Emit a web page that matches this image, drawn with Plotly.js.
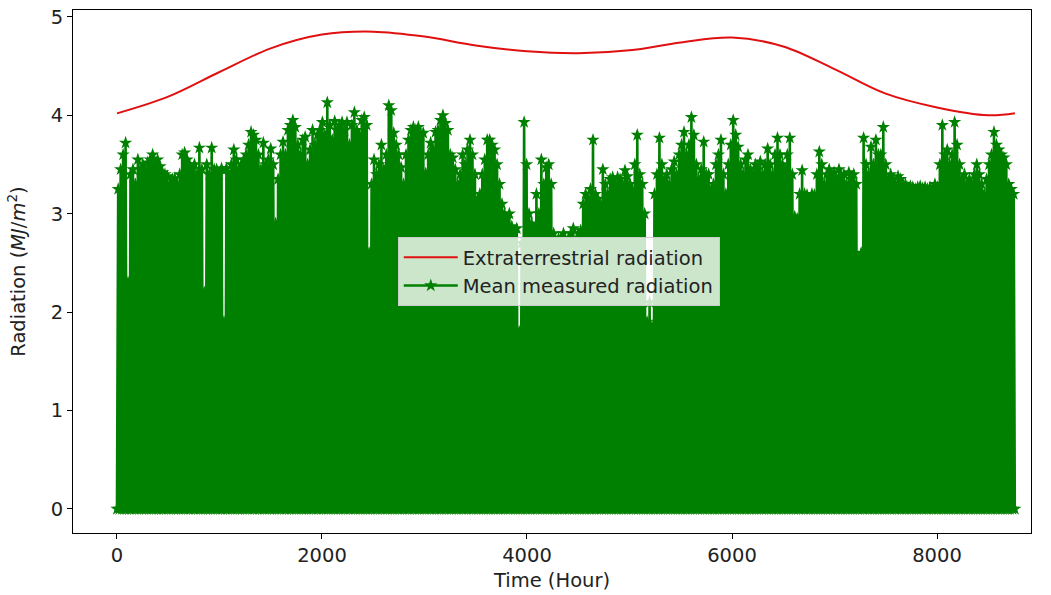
<!DOCTYPE html>
<html>
<head>
<meta charset="utf-8">
<script src="https://cdn.plot.ly/plotly-3.0.1.min.js"></script>
<style>
  html, body { margin: 0; padding: 0; background: #ffffff; }
  #chart { width: 1051px; height: 595px; }
</style>
</head>
<body>
<div id="chart"></div>
<script>
// ---- Data ----
// Extraterrestrial radiation (MJ/m^2), sampled along the hour axis
const extraHours  = [0, 500, 1000, 1500, 2000, 2500, 3000, 3500, 4000, 4500, 5000, 5500, 6000, 6500, 7000, 7500, 8000, 8500, 8760];
const extraValues = [4.02, 4.19, 4.44, 4.68, 4.82, 4.85, 4.80, 4.71, 4.65, 4.63, 4.66, 4.74, 4.79, 4.70, 4.47, 4.22, 4.08, 4.00, 4.02];

// Mean measured radiation: daily (noon) peak values for 365 days (MJ/m^2); nights are 0
const dailyPeak = [
  3.25, 3.45, 3.6, 3.72, 2.3, 3.4, 3.45, 3.3, 3.55, 3.45,
  3.5, 3.45, 3.52, 3.55, 3.6, 3.5, 3.55, 3.48, 3.42, 3.4,
  3.38, 3.3, 3.35, 3.36, 3.3, 3.4, 3.6, 3.62, 3.55, 3.5,
  3.45, 3.5, 3.4, 3.67, 3.45, 2.2, 3.5, 3.4, 3.67, 3.45,
  3.45, 3.4, 3.46, 1.9, 3.46, 3.4, 3.5, 3.65, 3.55, 3.45,
  3.5, 3.55, 3.6, 3.7, 3.83, 3.8, 3.75, 3.6, 3.45, 3.72,
  3.5, 3.55, 3.66, 3.5, 2.9, 3.35, 3.6, 3.73, 3.6, 3.85,
  3.9, 3.95, 3.88, 3.7, 3.6, 3.75, 3.78, 3.5, 3.65, 3.85,
  3.7, 3.8, 3.85, 3.93, 3.8, 4.13, 3.9, 3.75, 3.94, 3.85,
  3.9, 3.93, 3.85, 3.93, 3.7, 3.9, 4.03, 3.85, 3.8, 3.95,
  3.98, 3.9, 2.6, 3.3, 3.55, 3.4, 3.5, 3.7, 3.45, 3.6,
  4.1, 4.05, 3.82, 3.7, 3.6, 3.47, 3.3, 3.6, 3.75, 3.85,
  3.88, 3.85, 3.88, 3.8, 3.82, 3.41, 3.6, 3.72, 3.65, 3.83,
  3.85, 3.95, 4.0, 3.92, 3.85, 3.6, 3.57, 3.45, 3.3, 3.4,
  3.6, 3.5, 3.65, 3.75, 3.6, 3.4, 3.14, 3.2, 3.4, 3.55,
  3.75, 3.75, 3.7, 3.65, 3.5, 3.3, 3.1, 3.0, 2.95, 3.0,
  2.87, 2.8, 2.85, 1.8, 2.7, 3.93, 3.5, 3.0, 2.9, 2.85,
  3.2, 3.0, 3.55, 3.3, 3.47, 3.5, 3.3, 2.8, 2.7, 2.75,
  2.75, 2.8, 2.7, 2.75, 2.8, 2.85, 2.7, 2.8, 2.83, 3.1,
  3.2, 3.15, 3.25, 3.75, 3.2, 3.15, 3.1, 3.45, 3.3, 3.2,
  3.35, 3.37, 3.3, 3.37, 3.35, 3.3, 3.44, 3.38, 3.3, 3.24,
  3.5, 3.8, 3.4, 3.3, 3.0, 1.9, 2.1, 1.85, 3.2, 3.4,
  3.77, 3.5, 3.35, 3.4, 3.3, 3.45, 3.53, 3.4, 3.6, 3.7,
  3.83, 3.6, 3.7, 3.98, 3.8, 3.5, 3.35, 3.45, 3.73, 3.4,
  3.4, 3.24, 3.3, 3.5, 3.6, 3.75, 3.4, 3.2, 3.5, 3.7,
  3.95, 3.8, 3.68, 3.5, 3.4, 3.55, 3.6, 3.45, 3.4, 3.5,
  3.45, 3.53, 3.4, 3.5, 3.66, 3.5, 3.4, 3.6, 3.77, 3.6,
  3.5, 3.45, 3.6, 3.77, 3.4, 2.97, 2.95, 3.2, 3.44, 3.2,
  3.19, 3.15, 3.2, 3.19, 3.4, 3.63, 3.5, 3.3, 3.4, 3.45,
  3.4, 3.42, 3.35, 3.45, 3.38, 3.4, 3.3, 3.42, 3.35, 3.4,
  3.3, 2.56, 2.6, 3.77, 3.5, 3.4, 3.68, 3.5, 3.75, 3.6,
  3.6, 3.88, 3.5, 3.35, 3.4, 3.35, 3.3, 3.38, 3.35, 3.3,
  3.3, 3.27, 3.28, 3.27, 3.25, 3.27, 3.28, 3.26, 3.27, 3.25,
  3.27, 3.25, 3.3, 3.27, 3.5, 3.9, 3.6, 3.65, 3.5, 3.6,
  3.93, 3.7, 3.5, 3.35, 3.4, 3.3, 3.35, 3.3, 3.4, 3.5,
  3.4, 3.3, 3.2, 3.35, 3.5, 3.6, 3.83, 3.7, 3.65, 3.6,
  3.57, 3.5, 3.3, 3.25, 3.2
];
const nightValue = 0;
const lastHour = 8759;

const xTicks = [0, 2000, 4000, 6000, 8000];
const yTicks = [0, 1, 2, 3, 4, 5];

// ---- Build the hourly series table (night value at midnight, peak at noon) ----
const measHours = [];
const measValues = [];
for (let d = 0; d < dailyPeak.length; d++) {
  measHours.push(d * 24);      measValues.push(nightValue);
  measHours.push(d * 24 + 12); measValues.push(dailyPeak[d]);
}
measHours.push(lastHour); measValues.push(nightValue);

const font = { family: 'DejaVu Sans, sans-serif', size: 19.5, color: '#222222' };

const traces = [
  {
    x: extraHours, y: extraValues,
    type: 'scatter', mode: 'lines',
    name: 'Extraterrestrial radiation',
    line: { color: '#e01010', width: 2, shape: 'spline', smoothing: 1.0 }
  },
  {
    x: measHours, y: measValues,
    type: 'scatter', mode: 'lines+markers',
    name: 'Mean measured radiation',
    line: { color: '#008000', width: 2.6 },
    marker: { symbol: 'star', size: 10, color: '#008000', line: { width: 0 } }
  }
];

const layout = {
  width: 1051, height: 595,
  margin: { l: 73, r: 20, t: 10, b: 62 },
  paper_bgcolor: '#ffffff', plot_bgcolor: '#ffffff',
  font: font,
  showlegend: true,
  legend: {
    x: 0.339, y: 0.566, xanchor: 'left', yanchor: 'top',
    bgcolor: 'rgba(255,255,255,0.8)', bordercolor: '#cccccc', borderwidth: 1,
    font: font, tracegroupgap: 0, itemwidth: 54
  },
  xaxis: {
    range: [-429, 8917], tickvals: xTicks, ticktext: xTicks.map(String),
    showgrid: false, zeroline: false,
    showline: true, mirror: true, linecolor: '#000000', linewidth: 1,
    ticks: 'outside', ticklen: 5, tickcolor: '#000000', tickwidth: 1,
    tickfont: font,
    title: { text: 'Time (Hour)', font: font, standoff: 6 }
  },
  yaxis: {
    range: [-0.244, 5.07], tickvals: yTicks, ticktext: yTicks.map(String),
    showgrid: false, zeroline: false,
    showline: true, mirror: true, linecolor: '#000000', linewidth: 1,
    ticks: 'outside', ticklen: 5, tickcolor: '#000000', tickwidth: 1,
    tickfont: font,
    title: { text: 'Radiation (<i>MJ</i>/<i>m</i><sup>2</sup>)', font: font, standoff: 19 }
  }
};

Plotly.newPlot('chart', traces, layout, { displayModeBar: false, staticPlot: true });
</script>
</body>
</html>
